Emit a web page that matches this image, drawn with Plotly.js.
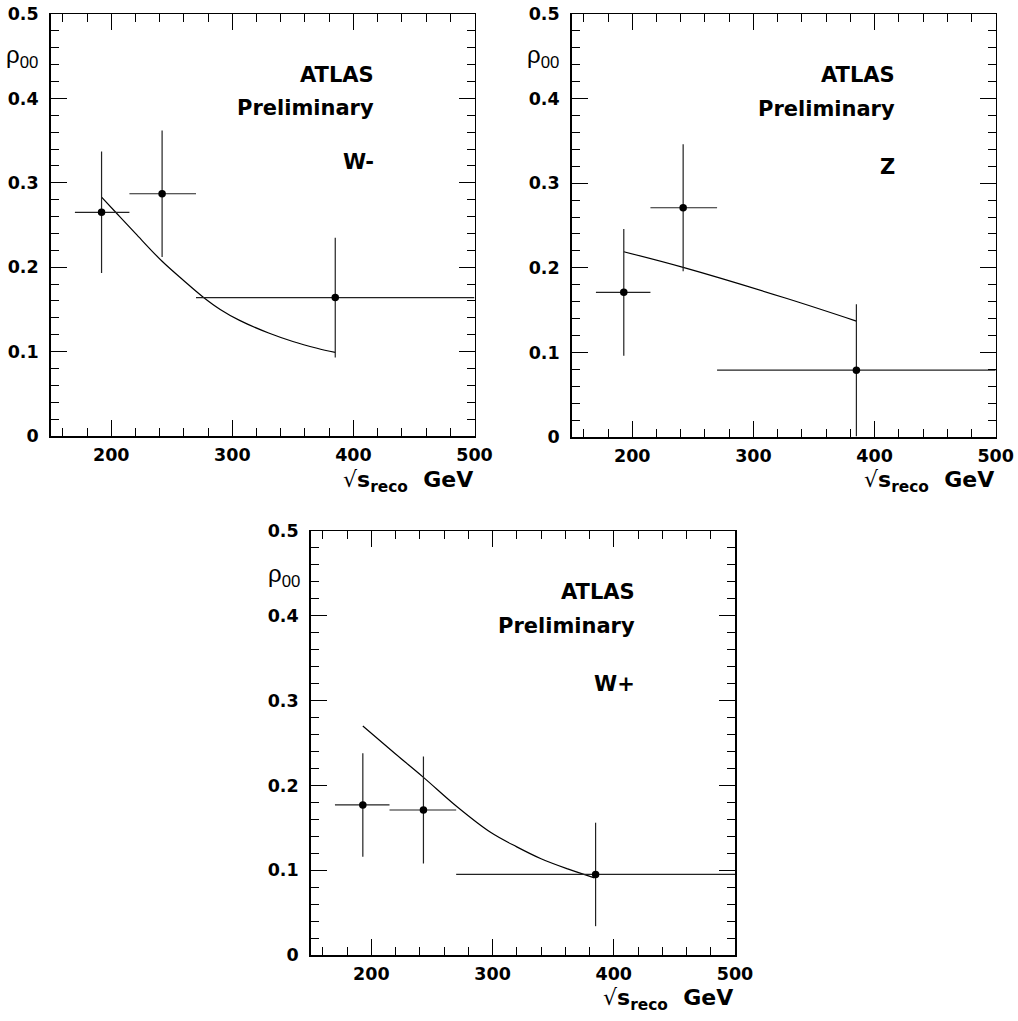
<!DOCTYPE html>
<html><head><meta charset="utf-8">
<script src="https://cdn.plot.ly/plotly-3.0.1.min.js"></script>
<style>html,body{margin:0;padding:0;background:#fff}#chart{width:1018px;height:1021px}</style>
</head><body><div id="chart"></div>
<script>
// ---- W- panel ----
const wmX = [192, 242, 385];
const wmLow = [170, 215, 270];
const wmHigh = [215, 270, 500];
const wmRho = [0.265, 0.287, 0.164];
const wmErr = [0.072, 0.075, 0.071];
const wmFitX = [192, 205, 220, 242, 260, 276, 290, 306, 330, 350, 370, 385];
const wmFitY = [0.283, 0.263, 0.240, 0.207, 0.184, 0.1645, 0.150, 0.137, 0.122, 0.112, 0.104, 0.099];

// ---- Z panel ----
const zX = [193, 242, 385];
const zLow = [170, 215, 270];
const zHigh = [215, 270, 500];
const zRho = [0.171, 0.271, 0.079];
const zErr = [0.075, 0.075, 0.078];
const zFitX = [193, 242, 327, 385];
const zFitY = [0.219, 0.2005, 0.164, 0.137];

// ---- W+ panel ----
const wpX = [193, 243, 385];
const wpLow = [170, 215, 270];
const wpHigh = [215, 270, 500];
const wpRho = [0.177, 0.171, 0.095];
const wpErr = [0.061, 0.063, 0.061];
const wpFitX = [193, 220, 243, 271, 298, 320, 340, 362, 384];
const wpFitY = [0.270, 0.237, 0.2095, 0.1745, 0.145, 0.1275, 0.1135, 0.1015, 0.091];

const panelLabels = ['W-', 'Z', 'W+'];
const xTickVals = [200, 300, 400, 500];
const xTickText = ['200', '300', '400', '500'];
const yTickVals = [0, 0.1, 0.2, 0.3, 0.4, 0.5];
const yTickText = ['0', '0.1', '0.2', '0.3', '0.4', '0.5'];

const W = 1018, H = 1021;
const px = v => v / W;
const py = v => 1 - v / H;
const FONT = 'DejaVu Sans';

function panelTraces(x, lo, hi, y, err, fx, fy, xa, ya) {
  return [
    {x: fx, y: fy, xaxis: xa, yaxis: ya, mode: 'lines', type: 'scatter',
     line: {color: '#000', width: 1.2, shape: 'spline', smoothing: 1}, hoverinfo: 'skip'},
    {x: x, y: y, xaxis: xa, yaxis: ya, mode: 'markers', type: 'scatter',
     marker: {color: '#000', size: 7.5},
     error_x: {type: 'data', symmetric: false,
               array: hi.map((h, i) => h - x[i]),
               arrayminus: lo.map((l, i) => x[i] - l),
               width: 0, thickness: 1.2, color: '#222'},
     error_y: {type: 'data', array: err, width: 0, thickness: 1.2, color: '#222'}}
  ];
}

const data = [
  ...panelTraces(wmX, wmLow, wmHigh, wmRho, wmErr, wmFitX, wmFitY, 'x', 'y'),
  ...panelTraces(zX, zLow, zHigh, zRho, zErr, zFitX, zFitY, 'x2', 'y2'),
  ...panelTraces(wpX, wpLow, wpHigh, wpRho, wpErr, wpFitX, wpFitY, 'x3', 'y3')
];

function xax(domain, anchor) {
  return {domain: domain, anchor: anchor, range: [150, 500],
    tickmode: 'array', tickvals: xTickVals, ticktext: xTickText,
    ticks: 'inside', ticklen: 16, tickwidth: 1, tickcolor: '#000',
    showline: true, linecolor: '#000', linewidth: 1.5, mirror: 'allticks',
    showgrid: false, zeroline: false, ticklabelstandoff: 2,
    minor: {tickmode: 'linear', tick0: 0, dtick: 20, ticks: 'inside', ticklen: 8,
            tickwidth: 1, tickcolor: '#000', showgrid: false},
    tickfont: {family: FONT, size: 17.5, color: '#000', weight: 'bold'}};
}
function yax(domain, anchor) {
  return {domain: domain, anchor: anchor, range: [0, 0.5],
    tickmode: 'array', tickvals: yTickVals, ticktext: yTickText,
    ticks: 'inside', ticklen: 16, tickwidth: 1, tickcolor: '#000',
    showline: true, linecolor: '#000', linewidth: 1.5, mirror: 'allticks',
    showgrid: false, zeroline: false, ticklabelstandoff: 7,
    minor: {tickmode: 'linear', tick0: 0, dtick: 0.02, ticks: 'inside', ticklen: 8,
            tickwidth: 1, tickcolor: '#000', showgrid: false},
    tickfont: {family: FONT, size: 17.5, color: '#000', weight: 'bold'}};
}

const panels = [
  {right: 376, atlasY: 75, prelY: 108, labY: 162, rhoR: 40, rhoY: 57, titleR: 474.5, titleY: 481},
  {right: 897, atlasY: 75, prelY: 109, labY: 167, rhoR: 561, rhoY: 56, titleR: 995.5, titleY: 481},
  {right: 637, atlasY: 592, prelY: 625.5, labY: 684, rhoR: 302, rhoY: 575, titleR: 734.5, titleY: 999}
];

const annotations = [];
panels.forEach((p, i) => {
  const base = {xref: 'paper', yref: 'paper', showarrow: false, xanchor: 'right', yanchor: 'middle',
                font: {family: FONT, size: 21, color: '#000'}};
  annotations.push(Object.assign({}, base, {x: px(p.right), y: py(p.atlasY), text: '<b>ATLAS</b>'}));
  annotations.push(Object.assign({}, base, {x: px(p.right), y: py(p.prelY), text: '<b>Preliminary</b>'}));
  annotations.push(Object.assign({}, base, {x: px(p.right), y: py(p.labY), text: '<b>' + panelLabels[i] + '</b>'}));
  annotations.push({xref: 'paper', yref: 'paper', showarrow: false, xanchor: 'right', yanchor: 'middle',
    x: px(p.rhoR), y: py(p.rhoY), text: 'ρ<sub>00</sub>',
    font: {family: 'Liberation Sans', size: 24, color: '#000'}});
  annotations.push({xref: 'paper', yref: 'paper', showarrow: false, xanchor: 'right', yanchor: 'middle',
    x: px(p.titleR), y: py(p.titleY),
    text: '√<b>s<sub>reco</sub>  GeV</b>',
    font: {family: FONT, size: 22, color: '#000'}});
});

const layout = {
  width: W, height: H,
  margin: {l: 0, r: 0, t: 0, b: 0},
  paper_bgcolor: '#fff', plot_bgcolor: '#fff',
  showlegend: false,
  xaxis: xax([px(50.7), px(474.5)], 'y'),
  yaxis: yax([py(436), py(14)], 'x'),
  xaxis2: xax([px(571.7), px(995.7)], 'y2'),
  yaxis2: yax([py(437), py(14)], 'x2'),
  xaxis3: xax([px(310.7), px(735)], 'y3'),
  yaxis3: yax([py(955), py(531)], 'x3'),
  annotations: annotations
};

Plotly.newPlot('chart', data, layout, {displayModeBar: false, staticPlot: true});
</script>
</body></html>
